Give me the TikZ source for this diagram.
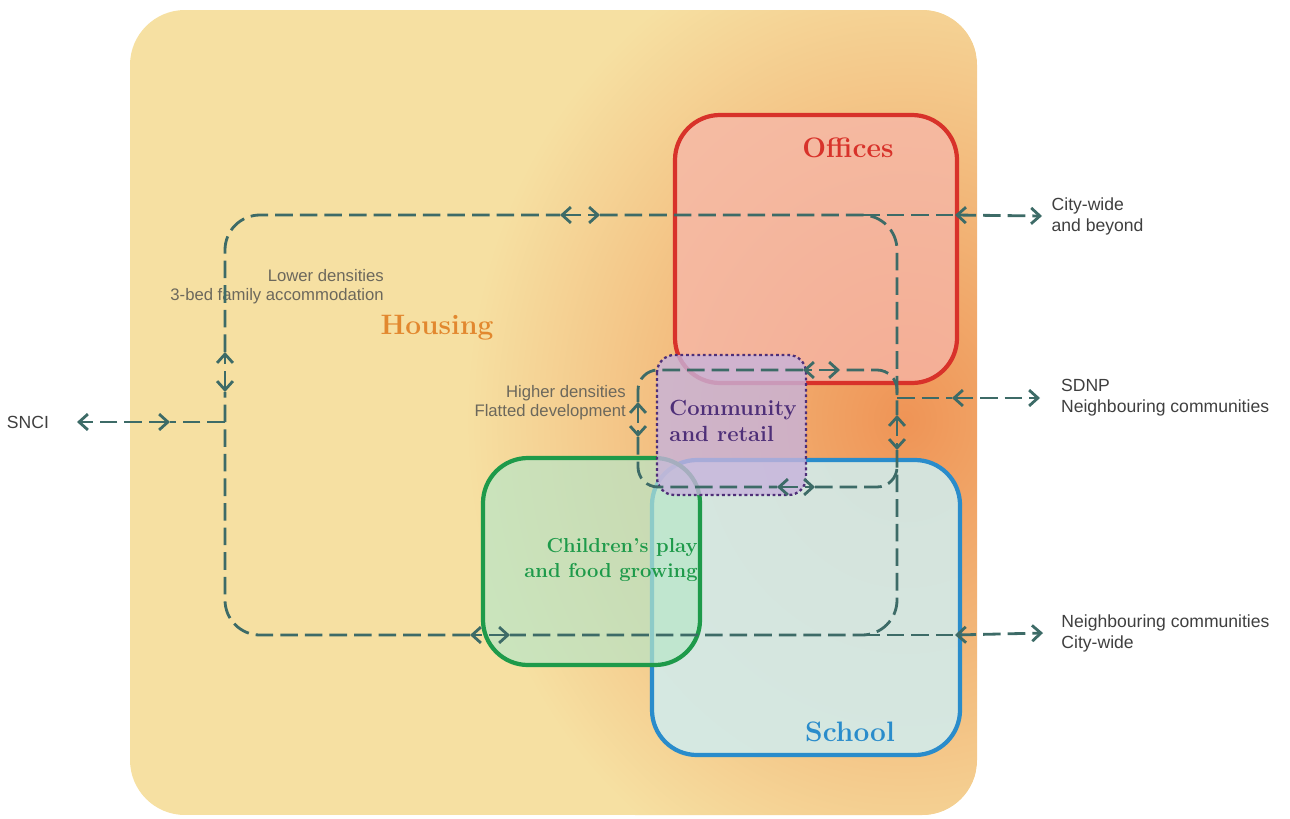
\documentclass[tikz,border=0pt]{standalone}
\usepackage{fontspec}
\setsansfont{Liberation Sans}
\usetikzlibrary{arrows.meta}

\definecolor{sandbg}{HTML}{F6E0A2}
\definecolor{glow}{HTML}{EF9456}
\definecolor{officered}{HTML}{D8322A}
\definecolor{officefill}{HTML}{F6B6AA}
\definecolor{schoolblue}{HTML}{2A8CCB}
\definecolor{schoolfill}{HTML}{D2EBEA}
\definecolor{playgreen}{HTML}{1E9A4A}
\definecolor{playfill}{HTML}{B8E6C8}
\definecolor{retailpurple}{HTML}{4E2F78}
\definecolor{retailfill}{HTML}{C7B3DC}
\definecolor{housingorange}{HTML}{E2882F}
\definecolor{flowteal}{HTML}{3D6B67}
\definecolor{notegrey}{HTML}{6C685C}
\definecolor{placegrey}{HTML}{3F3F3F}

\begin{document}
\begin{tikzpicture}[x=0.02cm,y=-0.02cm,>={Straight Barb[length=5pt,width=9pt]},
        flow/.style={draw=flowteal,line width=1.6pt,dash pattern=on 10pt off 4pt},
        zone/.style={line width=2.4pt,rounded corners=0.9cm},
        title/.style={font=\fontsize{16}{19}\selectfont\bfseries},
        note/.style={font=\sffamily\fontsize{9.5}{11}\selectfont,text=notegrey,align=right,anchor=east},
        place/.style={font=\sffamily\fontsize{10}{12}\selectfont,text=placegrey,align=left,inner sep=0pt,anchor=west}]
        \useasboundingbox (0,0) rectangle (1290,818);
        \begin{scope}
        \clip[rounded corners=1.1cm] (130,10) rectangle (977,815);
        \fill[sandbg] (130,10) rectangle (977,815);
        \shade[inner color=glow,outer color=sandbg] (905,420) ellipse (440 and 500);
        \end{scope}
        \draw[zone,draw=officered,fill=officefill,fill opacity=0.75] (675,115) rectangle (957,383);
        \draw[zone,draw=schoolblue,fill=schoolfill,fill opacity=0.9] (652,460) rectangle (960,755);
        \draw[zone,draw=playgreen,fill=playfill,fill opacity=0.7] (483,458) rectangle (700,665);
        \draw[draw=retailpurple,fill=retailfill,fill opacity=0.8,line width=1.3pt,
          dash pattern=on 1.6pt off 1.6pt,rounded corners=0.35cm] (657,355) rectangle (806,495);
        \node[title,text=officered] (offices) at (848,148) {Offices};
        \node[title,text=housingorange] (housing) at (437,328) {Housing};
        \node[title,text=schoolblue] (school) at (850,732) {School};
        \node[font=\fontsize{12.5}{15}\selectfont\bfseries,text=retailpurple,align=left] (retail) at (733,421) {Community\\and retail};
        \node[font=\fontsize{11.5}{14}\selectfont\bfseries,text=playgreen,align=right] (play) at (611,560) {Children’s play\\and food growing};
        \node[note] (lowdens) at (390,287) {Lower densities\\3-bed family accommodation};
        \node[note] (highdens) at (632,403) {Higher densities\\Flatted development};
        \node[place,outer sep=5.5pt] (citywide) at (1042,216) {City-wide\\and beyond};
        \node[place,outer sep=12pt] (sdnp) at (1040,398) {SDNP\\Neighbouring communities};
        \node[place,outer sep=10.5pt] (nbcity) at (1043,633) {Neighbouring communities\\City-wide};
        \node[place,anchor=east,outer sep=16pt] (snci) at (77,422) {SNCI};
        \coordinate (topin) at (560,215);
        \coordinate (topout) at (600,215);
        \coordinate (eastup) at (897,415);
        \coordinate (eastdown) at (897,450);
        \coordinate (botin) at (510,635);
        \coordinate (botout) at (470,635);
        \coordinate (westdown) at (225,392);
        \coordinate (westup) at (225,352);
        \coordinate (westjoin) at (225,422);
        \coordinate (sncimid) at (170,422);
        \coordinate (citymid) at (955,215);
        \coordinate (sdnpjoin) at (897,398);
        \coordinate (sdnpmid) at (952,398);
        \coordinate (nbmid) at (955,635);
        \draw[flow,rounded corners=0.7cm] (westup) -- (225,215) -- (topin);
        \draw[flow,<->] (topin) -- (topout);
        \draw[flow,rounded corners=0.7cm] (topout) -- (897,215) -- (eastup);
        \draw[flow,<->] (eastup) -- (eastdown);
        \draw[flow,rounded corners=0.7cm] (eastdown) -- (897,635) -- (botin);
        \draw[flow,<->] (botin) -- (botout);
        \draw[flow,rounded corners=0.7cm] (botout) -- (225,635) -- (westdown);
        \draw[flow,<->] (westdown) -- (westup);
        \draw[flow] (862,215) -- (citymid);
        \draw[flow,<->] (citymid) -- (citywide.west);
        \draw[flow] (sdnpjoin) -- (sdnpmid);
        \draw[flow,<->] (sdnpmid) -- (sdnp.west);
        \draw[flow] (862,635) -- (nbmid);
        \draw[flow,<->] (nbmid) -- (nbcity.west);
        \draw[flow] (westjoin) -- (sncimid);
        \draw[flow,<->] (sncimid) -- (snci.east);
        \coordinate (intopin) at (840,370);
        \coordinate (intopout) at (803,370);
        \coordinate (inwestup) at (638,402);
        \coordinate (inwestdown) at (638,437);
        \coordinate (inbotin) at (777,487);
        \coordinate (inbotout) at (815,487);
        \draw[flow,rounded corners=0.4cm] (897,395) -- (897,370) -- (intopin);
        \draw[flow,<->] (intopin) -- (intopout);
        \draw[flow,rounded corners=0.4cm] (intopout) -- (638,370) -- (inwestup);
        \draw[flow,<->] (inwestup) -- (inwestdown);
        \draw[flow,rounded corners=0.4cm] (inwestdown) -- (638,487) -- (inbotin);
        \draw[flow,<->] (inbotin) -- (inbotout);
        \draw[flow,rounded corners=0.4cm] (inbotout) -- (897,487) -- (897,465);
        \end{tikzpicture}
\end{document}
